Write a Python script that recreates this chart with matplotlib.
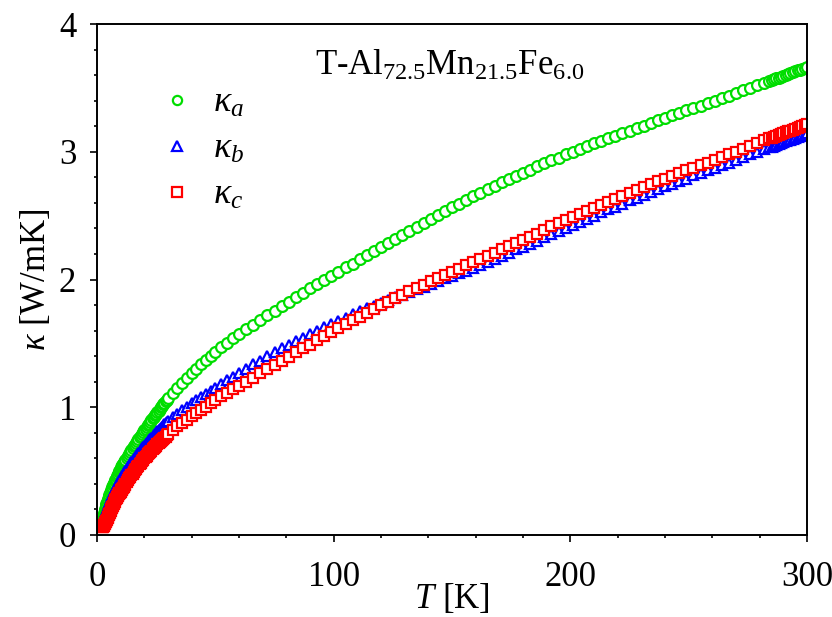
import matplotlib
matplotlib.use("Agg")
import matplotlib.pyplot as plt
from matplotlib.ticker import MultipleLocator

plt.rcParams['font.family'] = ['Liberation Serif', 'DejaVu Serif']
plt.rcParams['mathtext.fontset'] = 'custom'
plt.rcParams['mathtext.rm'] = 'Liberation Serif'
plt.rcParams['mathtext.it'] = 'Liberation Serif:italic'
plt.rcParams['mathtext.bf'] = 'Liberation Serif:bold'

# ---------------- data ----------------
# temperatures, in three segments (dense at low T, dense near 300 K)
T_low = [2, 2.25, 2.5, 2.75, 3, 3.25, 3.5, 3.75, 4, 4.25, 4.5, 4.75, 5, 5.25, 5.5, 5.75,
         6, 6.25, 6.5, 6.75, 7, 7.25, 7.5, 7.75, 8, 8.25, 8.5, 8.75, 9, 9.25, 9.5, 9.75,
         10, 10.25, 10.5, 10.75, 11, 11.25, 11.5, 11.75, 12]
T_mid = [12.5, 13, 13.5, 14, 14.5, 15, 15.5, 16, 16.5, 17, 17.5, 18, 18.5, 19, 19.5, 20,
         20.5, 21, 21.5, 22, 22.5, 23, 23.5, 24, 24.5, 25, 25.5, 26, 26.5, 27, 27.5, 28,
         28.5, 29, 29.5, 30]
T_high = [32, 34, 36, 38, 40, 42, 44, 46, 48, 50, 52.5, 55, 57.5, 60,
          63, 66, 69, 72, 75, 78, 81, 84, 87, 90, 93, 96, 99, 102, 105, 108, 111, 114, 117, 120,
          123, 126, 129, 132, 135, 138, 141, 144, 147, 150, 153, 156, 159, 162, 165, 168, 171, 174,
          177, 180, 183, 186, 189, 192, 195, 198, 201, 204, 207, 210, 213, 216, 219, 222, 225, 228,
          231, 234, 237, 240, 243, 246, 249, 252, 255, 258, 261, 264, 267, 270, 273, 276, 279, 282,
          284, 285, 286, 287, 288, 289, 290, 291, 292, 293, 294, 295, 296, 297, 298, 299, 300]

ka_low = [0.100, 0.118, 0.135, 0.152, 0.170, 0.188, 0.205, 0.222, 0.240, 0.255, 0.270, 0.285,
          0.300, 0.312, 0.325, 0.338, 0.350, 0.362, 0.375, 0.388, 0.400, 0.410, 0.420, 0.430,
          0.440, 0.450, 0.460, 0.470, 0.480, 0.490, 0.500, 0.510, 0.520, 0.529, 0.538, 0.546,
          0.555, 0.564, 0.573, 0.582, 0.590]
ka_mid = [0.605, 0.620, 0.635, 0.650, 0.665, 0.680, 0.693, 0.707, 0.720, 0.735, 0.750, 0.765,
          0.778, 0.792, 0.805, 0.818, 0.832, 0.845, 0.858, 0.872, 0.885, 0.898, 0.912, 0.925,
          0.937, 0.948, 0.960, 0.973, 0.987, 1.000, 1.012, 1.023, 1.035, 1.047, 1.058, 1.070]
ka_high = [1.11, 1.15, 1.19, 1.23, 1.27, 1.30, 1.335, 1.37, 1.40, 1.43, 1.47, 1.505, 1.54, 1.575,
           1.61, 1.645, 1.685, 1.72, 1.755, 1.79, 1.825, 1.86, 1.895, 1.93, 1.963, 1.996, 2.03, 2.06, 2.095, 2.125, 2.16, 2.19, 2.22, 2.255,
           2.285, 2.32, 2.35, 2.38, 2.41, 2.44, 2.475, 2.505, 2.535, 2.565, 2.595, 2.62, 2.65, 2.675, 2.705, 2.73, 2.76, 2.785,
           2.81, 2.835, 2.86, 2.885, 2.91, 2.935, 2.955, 2.98, 3.00, 3.02, 3.045, 3.065, 3.085, 3.105, 3.125, 3.145, 3.165, 3.185,
           3.205, 3.225, 3.245, 3.265, 3.285, 3.305, 3.325, 3.345, 3.36, 3.38, 3.40, 3.42, 3.44, 3.46, 3.48, 3.50, 3.52, 3.54,
           3.555, 3.56, 3.567, 3.574, 3.581, 3.588, 3.595, 3.602, 3.609, 3.616, 3.623, 3.63, 3.637, 3.644, 3.651, 3.658, 3.665]

kb_low = [0.080, 0.095, 0.110, 0.125, 0.140, 0.152, 0.165, 0.178, 0.190, 0.202, 0.215, 0.228,
          0.240, 0.252, 0.265, 0.278, 0.290, 0.300, 0.310, 0.320, 0.330, 0.340, 0.350, 0.360,
          0.370, 0.380, 0.390, 0.398, 0.405, 0.412, 0.420, 0.430, 0.440, 0.448, 0.455, 0.462,
          0.470, 0.478, 0.485, 0.492, 0.500]
kb_mid = [0.515, 0.530, 0.542, 0.555, 0.568, 0.580, 0.592, 0.603, 0.615, 0.627, 0.638, 0.650,
          0.663, 0.677, 0.690, 0.700, 0.710, 0.720, 0.730, 0.740, 0.750, 0.760, 0.770, 0.780,
          0.790, 0.800, 0.810, 0.818, 0.827, 0.835, 0.845, 0.855, 0.865, 0.873, 0.882, 0.890]
kb_high = [0.92, 0.95, 0.975, 1.00, 1.03, 1.055, 1.08, 1.10, 1.125, 1.15, 1.18, 1.21, 1.24, 1.27,
           1.30, 1.335, 1.365, 1.40, 1.43, 1.46, 1.49, 1.515, 1.545, 1.57, 1.60, 1.625, 1.65, 1.675, 1.70, 1.73, 1.755, 1.775, 1.795, 1.815,
           1.84, 1.86, 1.88, 1.90, 1.925, 1.945, 1.965, 1.99, 2.01, 2.03, 2.05, 2.07, 2.09, 2.115, 2.135, 2.16, 2.185, 2.21,
           2.235, 2.255, 2.28, 2.305, 2.33, 2.355, 2.38, 2.405, 2.43, 2.45, 2.475, 2.50, 2.525, 2.55, 2.57, 2.595, 2.62, 2.64,
           2.665, 2.685, 2.71, 2.73, 2.75, 2.77, 2.79, 2.815, 2.835, 2.855, 2.875, 2.895, 2.915, 2.935, 2.96, 2.98, 3.00, 3.02,
           3.035, 3.04, 3.047, 3.054, 3.061, 3.068, 3.075, 3.082, 3.089, 3.096, 3.103, 3.11, 3.117, 3.124, 3.131, 3.138, 3.145]

kc_low = [0.060, 0.062, 0.065, 0.070, 0.075, 0.082, 0.090, 0.100, 0.110, 0.120, 0.130, 0.142,
          0.155, 0.165, 0.175, 0.188, 0.200, 0.210, 0.220, 0.230, 0.240, 0.250, 0.260, 0.270,
          0.280, 0.288, 0.295, 0.302, 0.310, 0.318, 0.325, 0.332, 0.340, 0.348, 0.355, 0.362,
          0.370, 0.378, 0.385, 0.392, 0.400]
kc_mid = [0.415, 0.430, 0.442, 0.455, 0.468, 0.480, 0.493, 0.507, 0.520, 0.532, 0.543, 0.555,
          0.567, 0.578, 0.590, 0.600, 0.610, 0.620, 0.630, 0.640, 0.650, 0.660, 0.670, 0.680,
          0.690, 0.700, 0.710, 0.718, 0.727, 0.735, 0.743, 0.752, 0.760, 0.770, 0.780, 0.790]
kc_high = [0.82, 0.85, 0.875, 0.90, 0.93, 0.955, 0.98, 1.005, 1.03, 1.055, 1.085, 1.11, 1.14, 1.165,
           1.20, 1.23, 1.265, 1.30, 1.33, 1.365, 1.395, 1.43, 1.46, 1.49, 1.525, 1.555, 1.59, 1.62, 1.65, 1.68, 1.71, 1.74, 1.77, 1.80,
           1.825, 1.855, 1.88, 1.91, 1.935, 1.96, 1.985, 2.01, 2.035, 2.06, 2.085, 2.11, 2.135, 2.16, 2.185, 2.21, 2.235, 2.26,
           2.285, 2.31, 2.335, 2.36, 2.39, 2.415, 2.44, 2.465, 2.49, 2.51, 2.535, 2.56, 2.585, 2.61, 2.63, 2.655, 2.68, 2.70,
           2.725, 2.745, 2.77, 2.79, 2.81, 2.83, 2.855, 2.875, 2.895, 2.915, 2.935, 2.96, 2.98, 3.00, 3.02, 3.045, 3.065, 3.09,
           3.105, 3.11, 3.117, 3.124, 3.131, 3.138, 3.145, 3.152, 3.159, 3.166, 3.173, 3.18, 3.187, 3.194, 3.201, 3.208, 3.215]

T = T_low + T_mid + T_high
kappa_a = ka_low + ka_mid + ka_high
kappa_b = kb_low + kb_mid + kb_high
kappa_c = kc_low + kc_mid + kc_high

series_labels = [r'$\kappa_a$', r'$\kappa_b$', r'$\kappa_c$']
title_text = r'T-Al$_{\mathrm{72.5}}$Mn$_{\mathrm{21.5}}$Fe$_{\mathrm{6.0}}$'
x_ticks = [0, 100, 200, 300]
y_ticks = [0, 1, 2, 3, 4]

# ---------------- figure ----------------
fig = plt.figure(figsize=(8.32, 6.17), dpi=100)
ax = fig.add_axes([0.1166, 0.133, 0.8534, 0.828])

ms = 7.8
mew = 1.6
ax.plot(T, kappa_a, linestyle='none', marker='o', ms=ms, mew=mew,
        mec='#00dd00', mfc='white', label=series_labels[0])
ax.plot(T, kappa_b, linestyle='none', marker='^', ms=ms, mew=mew,
        mec='#0000ff', mfc='white', label=series_labels[1])
ax.plot(T, kappa_c, linestyle='none', marker='s', ms=ms, mew=mew,
        mec='#ff0000', mfc='white', label=series_labels[2])

ax.set_xlim(0, 300)
ax.set_ylim(0, 4)
ax.set_xticks(x_ticks)
ax.set_yticks(y_ticks)
ax.xaxis.set_minor_locator(MultipleLocator(20))
ax.yaxis.set_minor_locator(MultipleLocator(0.2))
ax.tick_params(which='both', direction='out', top=False, right=False, width=1.2)
ax.tick_params(which='major', length=5)
ax.tick_params(which='minor', length=2.5)
ax.tick_params(axis='x', which='major', labelsize=25, pad=14)
ax.tick_params(axis='y', which='major', labelsize=25, pad=10)
for s in ax.spines.values():
    s.set_linewidth(1.4)

ax.set_xlabel(r'$T$ [K]', fontsize=25, labelpad=-9)
ax.set_ylabel(r'$\kappa$ [W/mK]', fontsize=25, labelpad=4)

ax.text(0.496, 0.900, title_text, transform=ax.transAxes, ha='center',
        va='baseline', fontsize=25)

leg = ax.legend(loc='upper left', bbox_to_anchor=(0.067, 0.905), frameon=False,
                fontsize=26, numpoints=1, markerscale=0.85, handlelength=1.0,
                handletextpad=0.5, labelspacing=0.35, borderaxespad=0)

fig.savefig('out.png', dpi=100)
